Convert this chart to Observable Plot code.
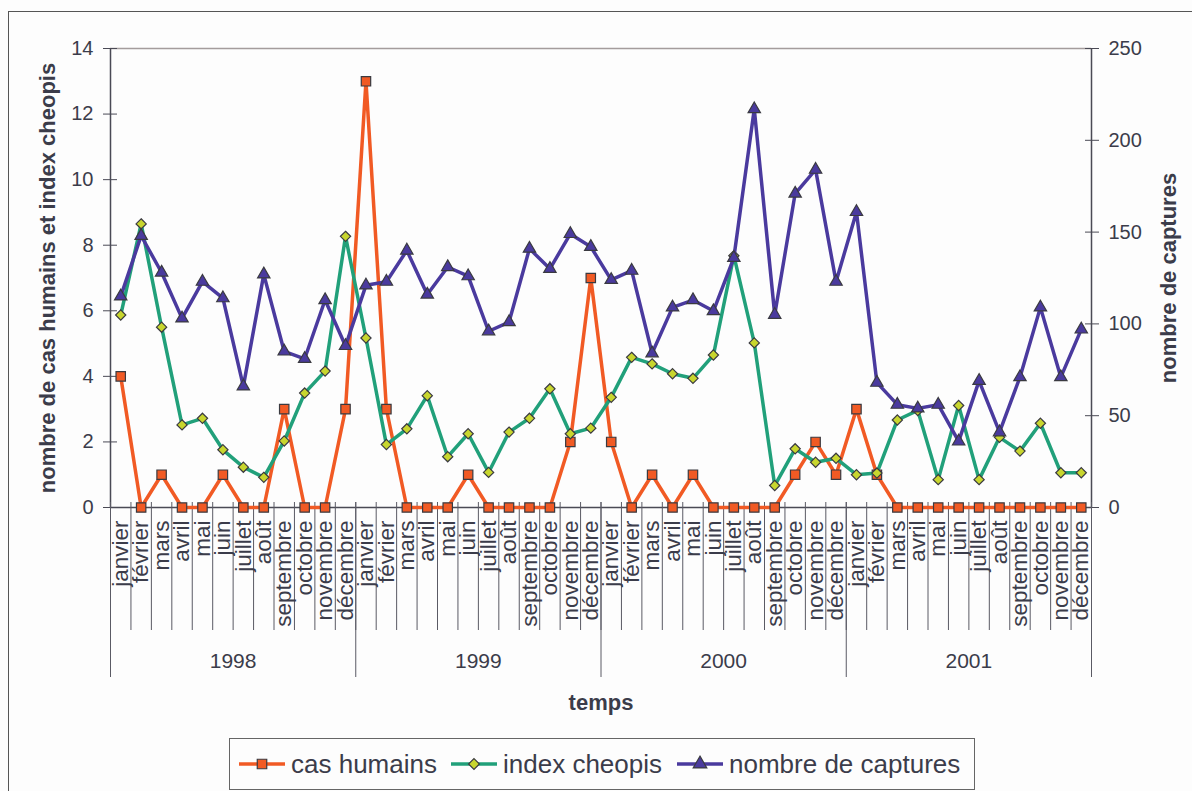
<!DOCTYPE html>
<html>
<head>
<meta charset="utf-8">
<script src="https://cdn.jsdelivr.net/npm/d3@7"></script>
<script src="https://cdn.jsdelivr.net/npm/@observablehq/plot@0.6"></script>
<style>
  html, body { margin: 0; padding: 0; background: #fdfdfd; }
  body { width: 1192px; height: 791px; position: relative; overflow: hidden; font-family: "Liberation Sans", Arial, sans-serif; color: #3b3c4a; }
  #frame { position: absolute; left: 8px; top: 11px; width: 1300px; height: 900px; border-left: 1.5px solid #555; border-top: 1.5px solid #555; }
  #chart { position: absolute; left: 0; top: 0; }
  #legend { position: absolute; left: 229px; top: 738px; width: 744px; height: 50px; border: 1.5px solid #666; background: #fdfdfd; }
  .item { position: absolute; top: 0; height: 50px; display: flex; align-items: center; white-space: nowrap; }
  .item svg { display: block; }
  .item span { font-size: 26px; display: inline-block; margin-left: 6px; color: #3b3c4a; }
</style>
</head>
<body>
<div id="frame"></div>
<div id="chart"></div>
<div id="legend"></div>
<script>
const monthNames = ["janvier","février","mars","avril","mai","juin","juillet","août","septembre","octobre","novembre","décembre"];
const years = ["1998","1999","2000","2001"];
const casHumains = [4,0,1,0,0,1,0,0,3,0,0,3, 13,3,0,0,0,1,0,0,0,0,2,7, 2,0,1,0,1,0,0,0,0,1,2,1, 3,1,0,0,0,0,0,0,0,0,0,0];
const indexCheopis = [5.87,8.65,5.5,2.52,2.72,1.76,1.23,0.92,2.03,3.49,4.16,8.27,
                      5.17,1.92,2.4,3.41,1.55,2.25,1.07,2.3,2.72,3.62,2.25,2.42,
                      3.36,4.58,4.38,4.08,3.94,4.65,7.68,5.02,0.67,1.79,1.38,1.5,
                      1.0,1.05,2.67,2.96,0.85,3.11,0.85,2.14,1.72,2.57,1.06,1.06];
const captures = [115,148,128,103,123,114,66,127,85,81,113,88,
                  121,123,140,116,131,126,96,101,141,130,149,142,
                  124,129,84,109,113,107,136,217,105,171,184,123,
                  161,68,56,54,56,36,69,41,71,109,71,97];
const leftTicks = [0,2,4,6,8,10,12,14];
const rightTicks = [0,50,100,150,200,250];
const seriesNames = ["cas humains","index cheopis","nombre de captures"];

const leftMax = leftTicks[leftTicks.length-1];
const rightMax = rightTicks[rightTicks.length-1];
const k = leftMax / rightMax;

const n = casHumains.length;
const idx = d3.range(n);
const rows = idx.map(i => ({i, cas: casHumains[i], cheopis: indexCheopis[i], cap: captures[i] * k}));
const boundaries = d3.range(n + 1).map(b => b - 0.5);
const yearBounds = d3.range(years.length + 1).map(y => y * 12 - 0.5);
const yearCenters = years.map((y, j) => j * 12 + 5.5);

const cOrange = "#f15a24", cGreen = "#21a07a", cPurple = "#4a3a9e", cDiamond = "#c8d62e", cText = "#3b3c4a", cAxis = "#4a4a55";
const mk = "#3a3a40";

const plot = Plot.plot({
  width: 1192,
  height: 720,
  marginLeft: 110,
  marginRight: 101,
  marginTop: 48,
  marginBottom: 213,
  style: {background: "transparent", fontFamily: "'Liberation Sans', Arial, sans-serif", color: cText},
  x: {domain: [-0.5, n - 0.5]},
  y: {domain: [0, leftMax]},
  marks: [
    Plot.ruleY([leftMax], {stroke: "#a49c9c", strokeWidth: 1.5}),
    Plot.ruleX([-0.5, n - 0.5], {stroke: cAxis, strokeWidth: 1.5}),
    Plot.ruleY([0], {stroke: cAxis, strokeWidth: 1.5}),
    Plot.axisY(leftTicks, {anchor: "left", tickSize: 14, dx: 7, tickPadding: 10, fontSize: 20, stroke: cAxis, fill: cText, label: null}),
    Plot.axisY(rightTicks.map(v => v * k), {anchor: "right", tickSize: 14, dx: -7, tickPadding: 10, fontSize: 20, stroke: cAxis, fill: cText, label: null,
      tickFormat: d => String(Math.round(d / k))}),
    Plot.axisX(boundaries, {anchor: "bottom", tickSize: 128, dy: -5, tickFormat: () => "", stroke: "#5a5a64", label: null}),
    Plot.axisX(yearBounds, {anchor: "bottom", tickSize: 175, dy: -5, tickFormat: () => "", stroke: "#5a5a64", label: null}),
    Plot.axisX(idx, {anchor: "bottom", tickSize: 0, tickPadding: 13, tickRotate: -90, fontSize: 22.5, fill: cText, label: null,
      tickFormat: i => monthNames[i % 12]}),
    Plot.axisX(yearCenters, {anchor: "bottom", tickSize: 0, tickPadding: 146, fontSize: 21, fill: cText, label: null,
      tickFormat: (d) => years[Math.round((d - 5.5) / 12)]}),
    Plot.line(rows, {x: "i", y: "cas", stroke: cOrange, strokeWidth: 3.5}),
    Plot.dot(rows, {x: "i", y: "cas", symbol: "square", r: 5.3, fill: cOrange, stroke: mk, strokeWidth: 1.2}),
    Plot.line(rows, {x: "i", y: "cheopis", stroke: cGreen, strokeWidth: 3.5}),
    Plot.dot(rows, {x: "i", y: "cheopis", symbol: "diamond2", r: 4.6, fill: cDiamond, stroke: mk, strokeWidth: 1.2}),
    Plot.line(rows, {x: "i", y: "cap", stroke: cPurple, strokeWidth: 3.5}),
    Plot.dot(rows, {x: "i", y: "cap", symbol: "triangle", r: 4.6, fill: cPurple, stroke: mk, strokeWidth: 1.2}),
    Plot.text(["nombre de cas humains et index cheopis"], {frameAnchor: "left", textAnchor: "middle", rotate: -90, dx: -63, fontSize: 22, fontWeight: "bold", fill: cText}),
    Plot.text(["nombre de captures"], {frameAnchor: "right", textAnchor: "middle", rotate: -90, dx: 77, fontSize: 22, fontWeight: "bold", fill: cText}),
    Plot.text(["temps"], {frameAnchor: "bottom", textAnchor: "middle", dy: 202, fontSize: 22, fontWeight: "bold", fill: cText})
  ]
});
document.getElementById("chart").appendChild(plot);

// legend
const legend = d3.select("#legend");
const colors = [cOrange, cGreen, cPurple];
const fills = [cOrange, cDiamond, cPurple];
const symbols = [d3.symbolSquare, d3.symbolDiamond2, d3.symbolTriangle];
const sizes = [90, 75, 80];
const itemLeft = [9, 221, 447];
seriesNames.forEach((name, j) => {
  const it = legend.append("div").attr("class", "item").style("left", itemLeft[j] + "px");
  const s = it.append("svg").attr("width", 46).attr("height", 24);
  s.append("line").attr("x1", 0).attr("x2", 46).attr("y1", 12).attr("y2", 12).attr("stroke", colors[j]).attr("stroke-width", 3.5);
  s.append("path").attr("d", d3.symbol(symbols[j], sizes[j])()).attr("transform", "translate(23,12)")
    .attr("fill", fills[j]).attr("stroke", mk).attr("stroke-width", 1.2);
  it.append("span").text(name);
});
</script>
</body>
</html>
